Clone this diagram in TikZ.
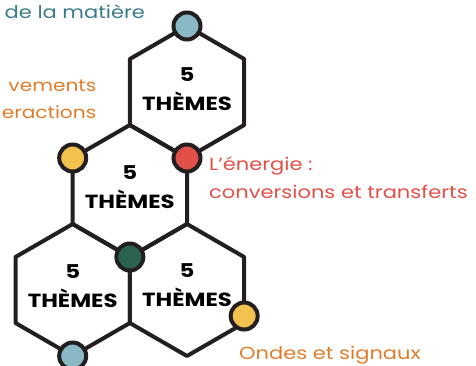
\documentclass[tikz,border=0pt]{standalone}
\usepackage{fontspec}
\setmainfont[FakeStretch=1.2]{Poppins}
\usetikzlibrary{positioning}

\definecolor{ink}{HTML}{231F20}
\definecolor{skyblue}{HTML}{8AB8C4}
\definecolor{sunyellow}{HTML}{F2C14E}
\definecolor{tomato}{HTML}{E2504A}
\definecolor{pine}{HTML}{2A634F}
\definecolor{tealtext}{HTML}{3A7A8A}
\definecolor{orangetext}{HTML}{E07D2C}

\begin{document}
\begin{tikzpicture}[
    x=1pt, y=-1pt,
    hexline/.style={draw=ink, line width=4pt, line join=round},
    dot/.style={circle, draw=ink, line width=4pt, minimum size=27pt, inner sep=0pt},
    theme/.style={align=center, font=\bfseries\fontsize{19}{29}\selectfont, text=black},
    annot/.style={inner sep=0.5pt, font=\fontsize{17.5}{28}\selectfont}
]
\useasboundingbox (0,0) rectangle (476,365);

% Hexagons
\foreach \cx/\cy in {187/92, 129.84/191, 72.68/290, 187/290}
  \draw[hexline] (\cx,\cy) +(90:66) -- +(150:66) -- +(210:66) -- +(270:66) -- +(330:66) -- +(30:66) -- cycle;

\node[theme] (hextop) at (187,89) {5\\THÈMES};
\node[theme] (hexmid) at (129.84,187) {5\\THÈMES};
\node[theme] (hexleft) at (72.68,286) {5\\THÈMES};
\node[theme] (hexright) at (187,285) {5\\THÈMES};

% Vertex dots
\node[dot, fill=skyblue] (matiere) at (187,26) {};
\node[dot, fill=sunyellow] (mouvement) at (72.68,158) {};
\node[dot, fill=tomato] (energie) at (187,158) {};
\node[dot, fill=pine] (centre) at (129.84,257) {};
\node[dot, fill=skyblue] (bas) at (72.68,356) {};
\node[dot, fill=sunyellow] (ondes) at (244.16,316) {};

% Annotations
\node[annot, text=tealtext, anchor=west] (txtmatiere) at (4,12) {de la matière};
\node[annot, font=\fontsize{16.8}{27}\selectfont, text=orangetext, align=right, anchor=east] (txtmouvement) at (97,99) {vements\\eractions};
\node[annot, text=tomato, align=left, anchor=west] (txtenergie) at (208.5,178) {L'énergie :\\conversions et transferts};
\node[annot, text=orangetext, anchor=west] (txtondes) at (238.5,355) {Ondes et signaux};

\end{tikzpicture}
\end{document}
